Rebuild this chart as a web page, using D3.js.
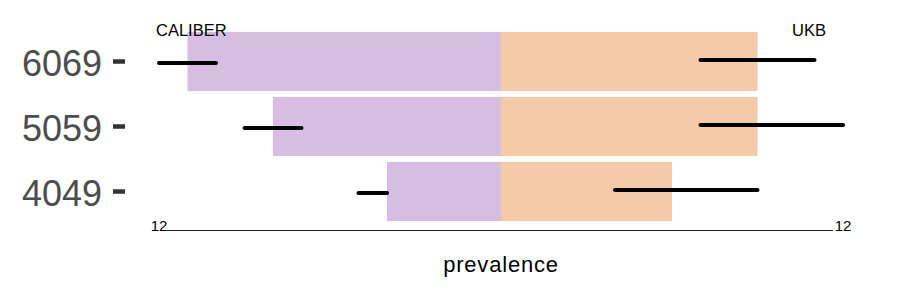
<!DOCTYPE html>
<html>
<head>
<meta charset="utf-8">
<script src="https://cdn.jsdelivr.net/npm/d3@7"></script>
<style>
  body { margin: 0; background: #fff; }
  svg { font-family: "Liberation Sans", Arial, sans-serif; }
</style>
</head>
<body>
<svg width="900" height="300"></svg>
<script>
// data
const ageGroups = ['6069', '5059', '4049'];
const caliberPrev = [11, 8, 4];
const ukbPrev = [9, 9, 6];
const caliberLow = [10, 7, 4];
const caliberHigh = [12, 9, 5];
const ukbLow = [7, 7, 4];
const ukbHigh = [11, 12, 9];
const axisMax = 12;

let svg = d3.select('svg'),
  width = +svg.attr('width'),
  height = +svg.attr('height');

let x = d3.scaleLinear().domain([-axisMax, axisMax]).range([159, 843]);
let y = d3.scaleBand().domain(ageGroups).range([29, 224])
  .paddingInner(0.09).paddingOuter(0.045);

let rows = ageGroups.map(function (g, i) {
  return {
    group: g,
    left: caliberPrev[i], right: ukbPrev[i],
    lLo: caliberLow[i], lHi: caliberHigh[i],
    rLo: ukbLow[i], rHi: ukbHigh[i]
  };
});

// bars
svg.append('g').selectAll('rect.left')
  .data(rows).enter().append('rect')
  .attr('class', 'left')
  .attr('x', d => x(-d.left))
  .attr('y', d => y(d.group))
  .attr('width', d => x(0) - x(-d.left))
  .attr('height', y.bandwidth())
  .attr('fill', '#d7bde2');

svg.append('g').selectAll('rect.right')
  .data(rows).enter().append('rect')
  .attr('class', 'right')
  .attr('x', x(0))
  .attr('y', d => y(d.group))
  .attr('width', d => x(d.right) - x(0))
  .attr('height', y.bandwidth())
  .attr('fill', '#f5cba7');

// interval lines
let mid = d => y(d.group) + y.bandwidth() / 2;
svg.append('g').selectAll('line.li')
  .data(rows).enter().append('line')
  .attr('x1', d => x(-d.lHi)).attr('x2', d => x(-d.lLo))
  .attr('y1', d => mid(d) + 1.5).attr('y2', d => mid(d) + 1.5)
  .attr('stroke', '#000').attr('stroke-width', 4)
  .attr('stroke-linecap', 'round');

svg.append('g').selectAll('line.ri')
  .data(rows).enter().append('line')
  .attr('x1', d => x(d.rLo)).attr('x2', d => x(d.rHi))
  .attr('y1', d => mid(d) - 1.5).attr('y2', d => mid(d) - 1.5)
  .attr('stroke', '#000').attr('stroke-width', 4)
  .attr('stroke-linecap', 'round');

// y labels and ticks
let yl = svg.append('g');
yl.selectAll('text').data(ageGroups).enter().append('text')
  .attr('x', 102)
  .attr('y', d => y(d) + y.bandwidth() / 2 + 14)
  .attr('text-anchor', 'end')
  .attr('font-size', 36)
  .attr('fill', '#4d4d4d')
  .text(d => d);
yl.selectAll('line').data(ageGroups).enter().append('line')
  .attr('x1', 113).attr('x2', 125)
  .attr('y1', d => y(d) + y.bandwidth() / 2)
  .attr('y2', d => y(d) + y.bandwidth() / 2)
  .attr('stroke', '#333').attr('stroke-width', 4.5);

// bottom axis
svg.append('line')
  .attr('x1', x(-axisMax) + 8).attr('x2', x(axisMax) - 10)
  .attr('y1', 230.5).attr('y2', 230.5)
  .attr('stroke', '#222').attr('stroke-width', 1.2);
svg.selectAll('text.end').data([-axisMax, axisMax]).enter().append('text')
  .attr('class', 'end')
  .attr('x', d => x(d))
  .attr('y', 231)
  .attr('text-anchor', 'middle')
  .attr('font-size', 15)
  .attr('fill', '#000')
  .text(d => Math.abs(d));

// source labels
svg.append('text').attr('x', 156).attr('y', 35.5)
  .attr('font-size', 16.5).attr('fill', '#000').text('CALIBER');
svg.append('text').attr('x', 792).attr('y', 35.5)
  .attr('font-size', 16.5).attr('fill', '#000').text('UKB');

// title
svg.append('text')
  .attr('x', x(0))
  .attr('y', 271.5)
  .attr('text-anchor', 'middle')
  .attr('font-size', 22)
  .attr('letter-spacing', 0.8)
  .attr('fill', '#000')
  .text('prevalence');
</script>
</body>
</html>
